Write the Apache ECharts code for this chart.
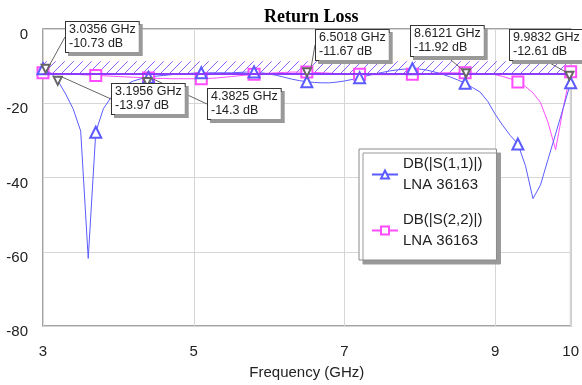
<!DOCTYPE html>
<html>
<head>
<meta charset="utf-8">
<script src="https://cdn.jsdelivr.net/npm/echarts@6/dist/echarts.min.js"></script>
<style>
  html, body { margin: 0; padding: 0; background: #fff; }
  #chart { width: 582px; height: 385px; }
</style>
</head>
<body>
<div id="chart"></div>
<script>
// sweep points (GHz)
const freqs = [
  3.0, 3.1, 3.2, 3.3, 3.4, 3.5, 3.6, 3.7, 3.8, 3.9,
  4.0, 4.1, 4.2, 4.3, 4.4, 4.5, 4.6, 4.7, 4.8, 4.9,
  5.0, 5.1, 5.2, 5.3, 5.4, 5.5, 5.6, 5.7, 5.8, 5.9,
  6.0, 6.1, 6.2, 6.3, 6.4, 6.5, 6.6, 6.7, 6.8, 6.9,
  7.0, 7.1, 7.2, 7.3, 7.4, 7.5, 7.6, 7.7, 7.8, 7.9,
  8.0, 8.1, 8.2, 8.3, 8.4, 8.5, 8.6, 8.7, 8.8, 8.9,
  9.0, 9.1, 9.2, 9.3, 9.4, 9.5, 9.6, 9.7, 9.8, 9.9,
  10.0
];

// DB(|S(1,1)|)
const s11Db = [
  -10.7, -11.8, -14.0, -17.5, -21.5, -27.5, -61.8, -27.8, -21.5, -18.5,
  -16.5, -15.0, -14.0, -13.4, -13.0, -12.7, -12.5, -12.3, -12.1, -12.0,
  -11.9, -11.8, -11.8, -11.8, -11.8, -11.8, -11.7, -11.6, -11.6, -11.8,
  -12.1, -12.5, -13.0, -13.5, -13.9, -14.2, -14.4, -14.5, -14.5, -14.3,
  -14.0, -13.6, -13.1, -12.6, -12.1, -11.7, -11.3, -11.0, -10.8, -10.7,
  -10.8, -11.1, -11.6, -12.2, -12.9, -13.7, -14.6, -15.8, -17.0, -19.5,
  -23.0, -26.0, -28.7, -31.0, -36.8, -45.7, -42.0, -35.1, -28.3, -21.4,
  -14.5
];

// DB(|S(2,2)|)
const s22Db = [
  -11.8, -11.9, -12.0, -12.1, -12.2, -12.3, -12.4, -12.5, -12.6, -12.7,
  -12.8, -12.9, -13.0, -13.1, -13.2, -13.3, -13.3, -13.4, -13.4, -13.4,
  -13.4, -13.4, -13.3, -13.2, -13.0, -12.8, -12.6, -12.4, -12.2, -12.0,
  -11.9, -11.8, -11.7, -11.6, -11.6, -11.6, -11.7, -11.8, -11.9, -12.0,
  -12.1, -12.2, -12.2, -12.3, -12.3, -12.3, -12.3, -12.3, -12.2, -12.2,
  -12.1, -12.0, -11.9, -11.8, -11.8, -11.8, -11.8, -11.9, -12.0, -12.1,
  -12.3, -12.8, -13.4, -14.3, -15.5, -17.2, -19.8, -25.2, -32.5, -21.5,
  -11.5
];

// marker readouts
const markerFreq = [3.0356, 3.1956, 4.3825, 6.5018, 8.6121, 9.9832];
const markerDb = [-10.73, -13.97, -14.3, -11.67, -11.92, -12.61];

// spec band (hatched) and limit line
const maskBand = [-12, -8.7];
const xTicks = [3, 5, 7, 9, 10];

const FONT = 'Liberation Sans, Arial, sans-serif';
const BLUE = '#5b5bff';
const MAGENTA = '#ff4cff';

// where the marker boxes sit (text top-left, px)
const boxPos = [[66, 22], [112, 84], [208, 89], [316, 30], [411, 26], [510, 30]];

function hatchPattern() {
  const c = document.createElement('canvas');
  c.width = 9; c.height = 9;
  const g = c.getContext('2d');
  g.strokeStyle = '#9060ff';
  g.lineWidth = 1;
  g.beginPath();
  g.moveTo(0, 9); g.lineTo(9, 0);
  g.moveTo(-1, 1); g.lineTo(1, -1);
  g.moveTo(8, 10); g.lineTo(10, 8);
  g.stroke();
  return c;
}

function pairs(ys) {
  return freqs.map((f, i) => [f, ys[i]]);
}

// symbol only every 7th sweep point, like the simulator does
const everySeventh = (v, p) => (p.dataIndex % 7 === 0 ? 11 : 0);

const chart = echarts.init(document.getElementById('chart'));

const option = {
  animation: false,
  title: {
    text: 'Return Loss',
    left: 259,
    top: 3,
    textStyle: { fontFamily: 'Liberation Serif, Times New Roman, serif', fontWeight: 'bold', fontSize: 18, color: '#000' }
  },
  grid: {
    left: 43, right: 11, top: 29, bottom: 55,
    show: true, borderColor: '#858585', borderWidth: 1.5
  },
  legend: {
    orient: 'vertical',
    left: 359, top: 149,
    data: ['DB(|S(1,1)|)', 'DB(|S(2,2)|)'],
    formatter: name => name + '\nLNA 36163',
    backgroundColor: '#fff',
    borderColor: '#8a8a8a',
    borderWidth: 1,
    padding: [-6, 14, -2, 12],
    itemGap: -7,
    itemWidth: 26,
    itemHeight: 10,
    shadowColor: '#999',
    shadowOffsetX: 4,
    shadowOffsetY: 4,
    shadowBlur: 0,
    textStyle: { fontFamily: FONT, fontSize: 15, lineHeight: 21, color: '#222', padding: [21, 0, 0, 0] }
  },
  xAxis: {
    type: 'value',
    min: 3, max: 10,
    name: 'Frequency (GHz)',
    nameLocation: 'middle',
    nameGap: 39,
    nameTextStyle: { fontFamily: FONT, fontSize: 15, color: '#222' },
    axisLine: { show: false },
    axisTick: { show: false, customValues: xTicks },
    axisLabel: { customValues: xTicks, margin: 18, fontFamily: FONT, fontSize: 15, color: '#222' },
    splitLine: { show: true, lineStyle: { color: '#d6d6d6', width: 1 } }
  },
  yAxis: {
    type: 'value',
    min: -80, max: 0, interval: 20,
    axisLine: { show: false },
    axisTick: { show: false },
    axisLabel: { margin: 15, fontFamily: FONT, fontSize: 15, color: '#222', verticalAlign: 'top', lineHeight: 12 },
    splitLine: { show: true, lineStyle: { color: '#d6d6d6', width: 1 } }
  },
  series: [
    {
      name: 'DB(|S(2,2)|)',
      type: 'line',
      data: pairs(s22Db),
      symbol: 'emptyRect',
      symbolSize: everySeventh,
      showAllSymbol: true,
      lineStyle: { color: MAGENTA, width: 1 },
      itemStyle: { color: MAGENTA, borderWidth: 1 },
      markArea: {
        silent: true,
        itemStyle: { color: { image: hatchPattern(), repeat: 'repeat' } },
        data: [[{ xAxis: 3, yAxis: maskBand[0] }, { xAxis: 10, yAxis: maskBand[1] }]]
      },
      markLine: {
        silent: true,
        symbol: 'none',
        label: { show: false },
        lineStyle: { color: '#8c3cff', width: 2, type: 'solid' },
        data: [{ yAxis: maskBand[0] }]
      }
    },
    {
      name: 'DB(|S(1,1)|)',
      type: 'line',
      data: pairs(s11Db),
      symbol: 'emptyTriangle',
      symbolSize: everySeventh,
      showAllSymbol: true,
      lineStyle: { color: BLUE, width: 1 },
      itemStyle: { color: BLUE, borderWidth: 1 }
    },
    {
      name: 'markers',
      type: 'scatter',
      data: markerFreq.map((f, i) => [f, markerDb[i]]),
      symbol: 'emptyTriangle',
      symbolRotate: 180,
      symbolSize: 8,
      itemStyle: { color: '#666', opacity: 1 },
      z: 5,
      label: {
        show: true,
        formatter: p => p.value[0] + ' GHz\n' + p.value[1] + ' dB',
        fontFamily: FONT,
        fontSize: 12.5,
        lineHeight: 14,
        color: '#222',
        opacity: 1,
        backgroundColor: '#ffffff',
        borderColor: '#333',
        borderWidth: 1,
        padding: [1, 3, 1, 3],
        shadowColor: '#999',
        shadowOffsetX: 3,
        shadowOffsetY: 3,
        shadowBlur: 0
      },
      labelLine: { show: true, lineStyle: { color: '#666', width: 1 } },
      labelLayout: p => ({
        x: boxPos[p.dataIndex][0],
        y: boxPos[p.dataIndex][1],
        align: 'left',
        verticalAlign: 'top'
      })
    }
  ]
};

chart.setOption(option);
</script>
</body>
</html>
